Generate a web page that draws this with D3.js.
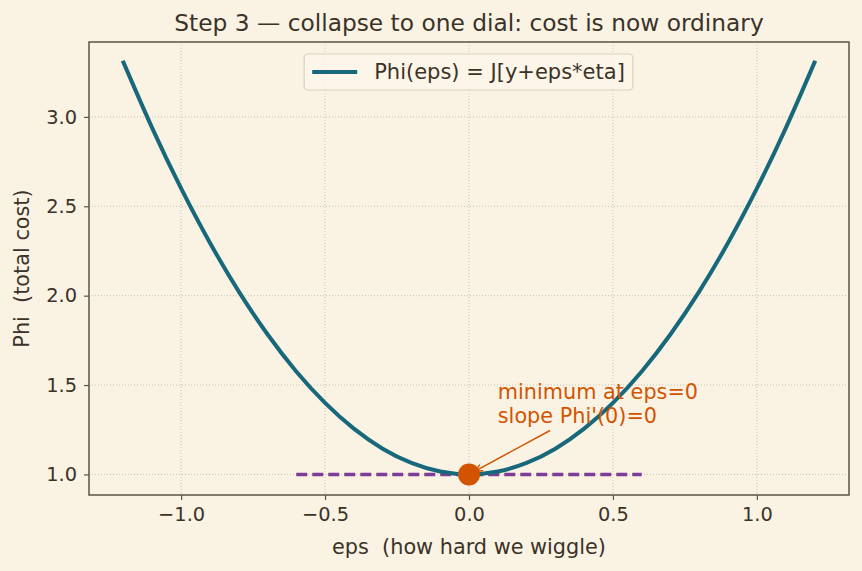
<!DOCTYPE html>
<html>
<head>
<meta charset="utf-8">
<script src="https://cdn.jsdelivr.net/npm/d3@7"></script>
<style>
  body { margin: 0; background: #faf3e4; }
  svg { display: block; font-family: "DejaVu Sans", sans-serif; }
  text { white-space: pre; }
</style>
</head>
<body>
<div id="chart"></div>
<script>
// values
const eps = [-1.2, -1.1, -1.0, -0.9, -0.8, -0.7, -0.6, -0.5, -0.4, -0.3, -0.2, -0.1, 0.0,
  0.1, 0.2, 0.3, 0.4, 0.5, 0.6, 0.7, 0.8, 0.9, 1.0, 1.1, 1.2];
const phi = [3.304, 2.936, 2.600, 2.296, 2.024, 1.784, 1.576, 1.400, 1.256, 1.144, 1.064, 1.016, 1.000,
  1.016, 1.064, 1.144, 1.256, 1.400, 1.576, 1.784, 2.024, 2.296, 2.600, 2.936, 3.304];
const slopeLine = [[-0.6, 1.0], [0.6, 1.0]];
const minPoint = [0.0, 1.0];
const xTicks = [-1.0, -0.5, 0.0, 0.5, 1.0];
const yTicks = [1.0, 1.5, 2.0, 2.5, 3.0];
const annoLines = ["minimum at eps=0", "slope Phi'(0)=0"];
const annoAt = [0.1, 1.285];

const W = 862, H = 571;
const margin = { top: 42, right: 13, bottom: 76, left: 89 };
const width = W - margin.left - margin.right;
const height = H - margin.top - margin.bottom;

const ink = '#3b3228', frame = '#5e5343';
const teal = '#17687a', purple = '#7d3c98', orange = '#d35400';

const svg = d3.select('#chart').append('svg')
  .attr('width', W).attr('height', H);
svg.append('rect').attr('width', W).attr('height', H).attr('fill', '#faf3e4');

const g = svg.append('g').attr('transform', `translate(${margin.left},${margin.top})`);

// 5% padding like matplotlib
const xExt = d3.extent(eps), yExt = d3.extent(phi);
const xPad = (xExt[1] - xExt[0]) * 0.05, yPad = (yExt[1] - yExt[0]) * 0.05;
const x = d3.scaleLinear().domain([xExt[0] - xPad, xExt[1] + xPad]).range([0, width]);
const y = d3.scaleLinear().domain([yExt[0] - yPad, yExt[1] + yPad]).range([height, 0]);

// grid
g.append('g').selectAll('line').data(xTicks).join('line')
  .attr('x1', d => x(d)).attr('x2', d => x(d)).attr('y1', 0).attr('y2', height)
  .attr('stroke', '#bdb5a6').attr('stroke-width', 0.8).attr('stroke-dasharray', '1,2');
g.append('g').selectAll('line').data(yTicks).join('line')
  .attr('y1', d => y(d)).attr('y2', d => y(d)).attr('x1', 0).attr('x2', width)
  .attr('stroke', '#bdb5a6').attr('stroke-width', 0.8).attr('stroke-dasharray', '1,2');

// axes
const xAxis = g.append('g').attr('transform', `translate(0,${height})`)
  .call(d3.axisBottom(x).tickValues(xTicks).tickFormat(d3.format('.1f')).tickSize(5).tickPadding(7));
const yAxis = g.append('g')
  .call(d3.axisLeft(y).tickValues(yTicks).tickFormat(d3.format('.1f')).tickSize(5).tickPadding(7));
[xAxis, yAxis].forEach(a => {
  a.select('.domain').remove();
  a.selectAll('line').attr('stroke', frame).attr('stroke-width', 1.2);
  a.selectAll('text').attr('fill', ink).style('font-size', '19.4px')
    .style('font-family', '"DejaVu Sans", sans-serif');
});
xAxis.selectAll('text').text(d => d3.format('.1f')(d).replace('-', '\u2212'));

// slope line
g.append('path')
  .attr('d', d3.line().x(d => x(d[0])).y(d => y(d[1]))(slopeLine))
  .attr('stroke', purple).attr('stroke-width', 3.5).attr('stroke-dasharray', '11,5')
  .attr('fill', 'none');

// curve
const pts = eps.map((e, i) => [e, phi[i]]);
g.append('path')
  .attr('d', d3.line().x(d => x(d[0])).y(d => y(d[1])).curve(d3.curveNatural)(pts))
  .attr('stroke', teal).attr('stroke-width', 4).attr('fill', 'none')
  .attr('stroke-linecap', 'square');

// min point
g.append('circle').attr('cx', x(minPoint[0])).attr('cy', y(minPoint[1])).attr('r', 11)
  .attr('fill', orange);

// annotation
const lineGap = 24;
const anno = g.append('text').attr('fill', orange).style('font-size', '20.8px')
  .attr('x', x(annoAt[0])).attr('y', y(annoAt[1]));
anno.selectAll('tspan').data(annoLines).join('tspan')
  .attr('x', x(annoAt[0]))
  .attr('dy', (d, i) => i === 0 ? -(annoLines.length - 1) * lineGap : lineGap)
  .text(d => d);
const bb = anno.node().getBBox();
const tx = x(minPoint[0]), ty = y(minPoint[1]);
const cx = bb.x + bb.width / 2, cy = bb.y + bb.height / 2;
const t0 = (bb.y + bb.height + 2 - cy) / (ty - cy);
const sx = cx + (tx - cx) * t0, sy = cy + (ty - cy) * t0;
const ang = Math.atan2(ty - sy, tx - sx);
const ex = tx - Math.cos(ang) * 7, ey = ty - Math.sin(ang) * 7;
g.append('line').attr('x1', sx).attr('y1', sy).attr('x2', ex).attr('y2', ey)
  .attr('stroke', orange).attr('stroke-width', 1.5);
const ah = 8, aw = 0.45;
g.append('path')
  .attr('d', `M${ex - ah * Math.cos(ang - aw)},${ey - ah * Math.sin(ang - aw)}L${ex},${ey}L${ex - ah * Math.cos(ang + aw)},${ey - ah * Math.sin(ang + aw)}`)
  .attr('stroke', orange).attr('stroke-width', 1.5).attr('fill', 'none');

// frame
g.append('rect').attr('width', width).attr('height', height)
  .attr('fill', 'none').attr('stroke', frame).attr('stroke-width', 1.5);

// legend
const leg = g.append('g');
const legText = 'Phi(eps) = J[y+eps*eta]';
const lt = leg.append('text').attr('x', 0).attr('y', 0).attr('fill', ink)
  .style('font-size', '21px').text(legText);
const lw = lt.node().getComputedTextLength();
const boxW = 70 + lw + 8, boxH = 36;
const bx = width / 2 - boxW / 2 - 0.5, by = 12;
leg.insert('rect', 'text').attr('x', bx).attr('y', by).attr('width', boxW).attr('height', boxH)
  .attr('rx', 4).attr('fill', '#fbf5e9').attr('fill-opacity', 0.85)
  .attr('stroke', '#d6d0c4').attr('stroke-width', 1.2);
leg.append('line').attr('x1', bx + 8).attr('x2', bx + 53).attr('y1', by + boxH / 2).attr('y2', by + boxH / 2)
  .attr('stroke', teal).attr('stroke-width', 4);
lt.attr('x', bx + 70).attr('y', by + boxH / 2 + 7);

// title and labels
svg.append('text').attr('x', margin.left + width / 2).attr('y', 31).attr('text-anchor', 'middle')
  .attr('fill', ink).style('font-size', '23.3px')
  .text('Step 3 \u2014 collapse to one dial: cost is now ordinary');
svg.append('text').attr('x', margin.left + width / 2).attr('y', 554).attr('text-anchor', 'middle')
  .attr('fill', ink).style('font-size', '20.8px').text('eps  (how hard we wiggle)');
svg.append('text').attr('transform', `translate(29,${margin.top + height / 2}) rotate(-90)`)
  .attr('text-anchor', 'middle').attr('fill', ink).style('font-size', '20.8px')
  .text('Phi  (total cost)');
</script>
</body>
</html>
